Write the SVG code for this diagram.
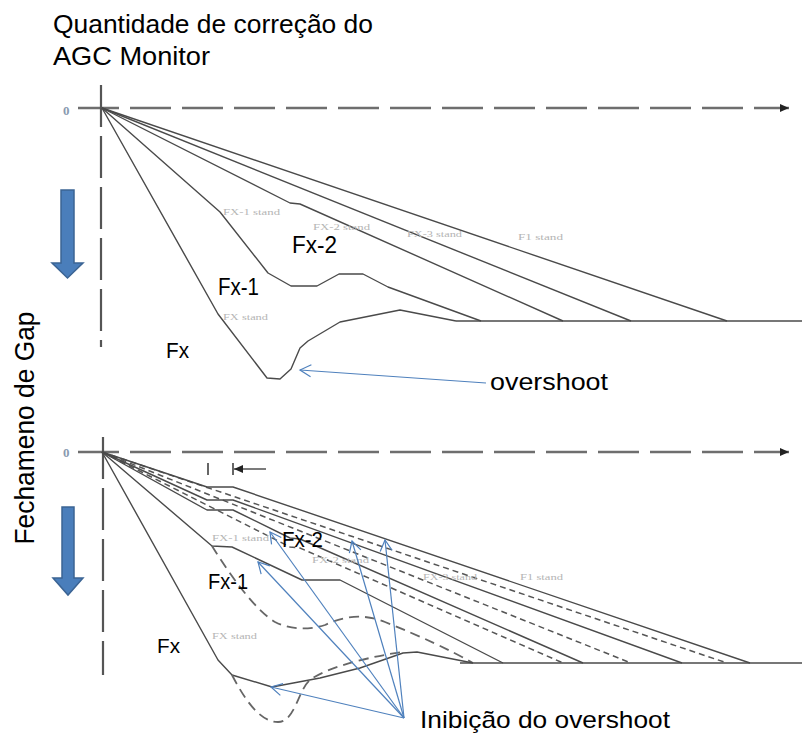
<svg xmlns="http://www.w3.org/2000/svg" width="802" height="733" viewBox="0 0 802 733">
<defs>
<style>
.lbl{font-family:"Liberation Sans",Arial,sans-serif;fill:#000;}
.stand{font-family:"Liberation Serif","Times New Roman",serif;font-size:9px;fill:#b4b4b4;}
.zero{font-family:"Liberation Serif","Times New Roman",serif;font-size:13px;font-weight:bold;fill:#8a9ab0;}
.axis{stroke:#6e6e6e;stroke-width:2.6;fill:none;stroke-dasharray:41 11;}
.vaxis{stroke:#555;stroke-width:2.2;fill:none;stroke-dasharray:42 9;}
.curve{stroke:#4a4a4a;stroke-width:1.4;fill:none;stroke-linejoin:round;}
.dcurve{stroke:#555;stroke-width:1.5;fill:none;stroke-dasharray:6 4;}
.ldash{stroke:#666;stroke-width:1.8;fill:none;stroke-dasharray:10 6;}
.base{stroke:#777;stroke-width:2;fill:none;}
.blue{stroke:#4f81bd;stroke-width:1.2;fill:none;}
.barrow{fill:#4a7ebb;stroke:#3b6494;stroke-width:1.5;}
</style>
<marker id="axhead" markerWidth="10" markerHeight="10" refX="9" refY="5" orient="auto" markerUnits="userSpaceOnUse">
<path d="M0,1 L9,5 L0,9 Z" fill="#222"/>
</marker>
<marker id="bluehead" markerWidth="14" markerHeight="14" refX="12" refY="7" orient="auto" markerUnits="userSpaceOnUse">
<path d="M1,1 L12,7 L1,13" fill="none" stroke="#4f81bd" stroke-width="1.2"/>
</marker>
<marker id="smallhead" markerWidth="10" markerHeight="10" refX="9" refY="5" orient="auto" markerUnits="userSpaceOnUse">
<path d="M0,1 L9,5 L0,9 Z" fill="#222"/>
</marker>
</defs>
<rect width="802" height="733" fill="#fff"/>

<g id="title">
<text class="lbl" x="53" y="33" font-size="25" textLength="320" lengthAdjust="spacingAndGlyphs">Quantidade de correção do</text>
<text class="lbl" x="53" y="65" font-size="25" textLength="157" lengthAdjust="spacingAndGlyphs">AGC Monitor</text>
</g>

<g id="ylabel">
<text class="lbl" x="0" y="0" font-size="27" text-anchor="middle" textLength="233" lengthAdjust="spacingAndGlyphs" transform="translate(34,428) rotate(-90)">Fechameno de Gap</text>
</g>

<g id="down-arrows">
<path class="barrow" d="M61,190 H74 V263 H83 L67.5,278 L52,263 H61 Z"/>
<path class="barrow" d="M62,507 H74 V578 H83 L68,595 L53,578 H62 Z"/>
</g>

<g id="top-chart">
<line class="axis" x1="78" y1="108" x2="789" y2="108" marker-end="url(#axhead)"/>
<line class="vaxis" x1="101" y1="85" x2="101" y2="347"/>
<text class="zero" x="63" y="115">0</text>
<path class="base" d="M456,321 H802"/>
<path class="curve" d="M102,108 L727,321"/>
<path class="curve" d="M102,108 L631,321"/>
<path class="curve" d="M102,108 L290,203 L300,204 L563,321"/>
<path class="curve" d="M102,108 L220,212 L268,273 L291,286 L317,286 L339,274 L363,274 L388,287 L481,321"/>
<path class="curve" d="M102,108 L218,314 L267,378 L280,379 L291,369 L300,348 L308,341 L340,322 L400,310 L456,321"/>
<text class="stand" x="223" y="215" textLength="57" lengthAdjust="spacingAndGlyphs">FX-1 stand</text>
<text class="stand" x="313" y="230" textLength="57" lengthAdjust="spacingAndGlyphs">FX-2 stand</text>
<text class="stand" x="407" y="237" textLength="55" lengthAdjust="spacingAndGlyphs">FX-3 stand</text>
<text class="stand" x="518" y="240" textLength="45" lengthAdjust="spacingAndGlyphs">F1 stand</text>
<text class="stand" x="223" y="320" textLength="45" lengthAdjust="spacingAndGlyphs">FX stand</text>
<text class="lbl" x="292" y="253" font-size="23" textLength="45" lengthAdjust="spacingAndGlyphs">Fx-2</text>
<text class="lbl" x="218" y="295" font-size="24" textLength="41" lengthAdjust="spacingAndGlyphs">Fx-1</text>
<text class="lbl" x="166" y="358" font-size="22" textLength="23" lengthAdjust="spacingAndGlyphs">Fx</text>
<text class="lbl" x="490" y="390" font-size="24" textLength="118" lengthAdjust="spacingAndGlyphs">overshoot</text>
</g>

<g id="bottom-chart">
<line class="axis" x1="78" y1="452" x2="789" y2="452" marker-end="url(#axhead)"/>
<line class="vaxis" x1="103" y1="437" x2="103" y2="675"/>
<text class="zero" x="63" y="457">0</text>
<line x1="208" y1="463" x2="208" y2="475" stroke="#333" stroke-width="1.5"/>
<line x1="233" y1="463" x2="233" y2="475" stroke="#333" stroke-width="1.5"/>
<line x1="266" y1="469" x2="234" y2="469" stroke="#333" stroke-width="1.3" marker-end="url(#smallhead)"/>
<path class="base" d="M460,663 H802"/>
<path class="dcurve" d="M102,452 L727,663"/>
<path class="dcurve" d="M102,452 L631,663"/>
<path class="dcurve" d="M102,452 L290,547 L300,548 L563,663"/>
<path class="curve" d="M102,452 L207,487 L233,487 L750,663"/>
<path class="curve" d="M102,452 L207,500 L233,500 L682,663"/>
<path class="curve" d="M102,452 L207,510 L233,510 L290,538 L300,539 L583,663"/>
<path class="curve" d="M102,452 L212,546 L232,547 L302,580 L340,580 L503,663"/>
<path class="ldash" d="M212,546 C230,575 255,610 275,622 C290,630 310,630 325,625 C340,618 360,612 385,622 C420,636 450,650 473,663"/>
<path class="curve" d="M102,452 L218,660 L232,675 L272,687 L320,678 L360,668 L403,653 L417,652 L473,663"/>
<path class="ldash" d="M232,675 C245,700 260,722 278,722 C295,722 298,690 310,680 C330,665 380,655 403,652"/>
<text class="stand" x="212" y="541" textLength="57" lengthAdjust="spacingAndGlyphs">FX-1 stand</text>
<text class="stand" x="312" y="563" textLength="57" lengthAdjust="spacingAndGlyphs">FX-2 stand</text>
<text class="stand" x="423" y="580" textLength="54" lengthAdjust="spacingAndGlyphs">FX-3 stand</text>
<text class="stand" x="520" y="580" textLength="43" lengthAdjust="spacingAndGlyphs">F1 stand</text>
<text class="stand" x="212" y="639" textLength="45" lengthAdjust="spacingAndGlyphs">FX stand</text>
<text class="lbl" x="282" y="547" font-size="22" textLength="41" lengthAdjust="spacingAndGlyphs">Fx-2</text>
<text class="lbl" x="208" y="589" font-size="22" textLength="40" lengthAdjust="spacingAndGlyphs">Fx-1</text>
<text class="lbl" x="157" y="653" font-size="21" textLength="23" lengthAdjust="spacingAndGlyphs">Fx</text>
<text class="lbl" x="420" y="728" font-size="24" textLength="250" lengthAdjust="spacingAndGlyphs">Inibição do overshoot</text>
</g>

<g id="connectors">
<line class="blue" x1="486" y1="383" x2="300" y2="370" marker-end="url(#bluehead)"/>
<line class="blue" x1="404" y1="718" x2="271" y2="687" marker-end="url(#bluehead)"/>
<line class="blue" x1="404" y1="718" x2="258" y2="562" marker-end="url(#bluehead)"/>
<line class="blue" x1="404" y1="718" x2="270" y2="532" marker-end="url(#bluehead)"/>
<line class="blue" x1="404" y1="718" x2="352" y2="541" marker-end="url(#bluehead)"/>
<line class="blue" x1="404" y1="718" x2="385" y2="540" marker-end="url(#bluehead)"/>
</g>
</svg>
